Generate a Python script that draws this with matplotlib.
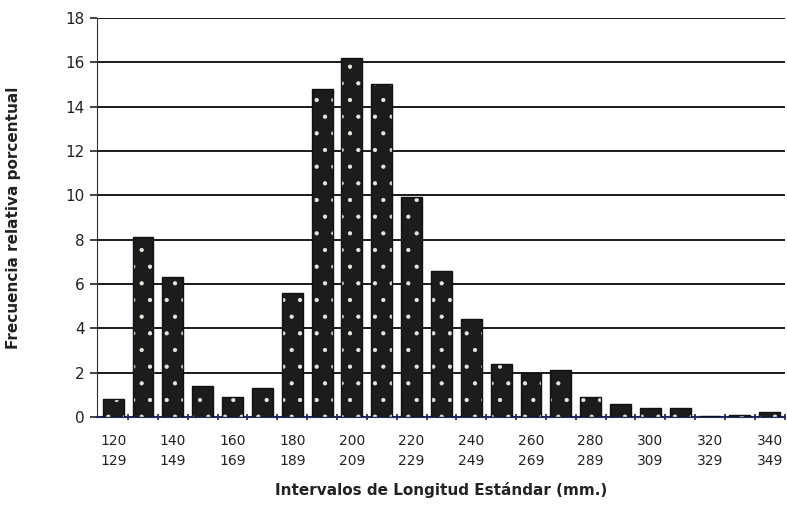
from matplotlib import pyplot as plt
import numpy as np

# interval starts (mm) and relative frequency (%)
starts = [120, 130, 140, 150, 160, 170, 180, 190, 200, 210, 220, 230,
          240, 250, 260, 270, 280, 290, 300, 310, 320, 330, 340]
freq = [0.8, 8.1, 6.3, 1.4, 0.9, 1.3, 5.6, 14.8, 16.2, 15.0, 9.9, 6.6,
        4.4, 2.4, 2.0, 2.1, 0.9, 0.6, 0.4, 0.4, 0.05, 0.1, 0.2]
y_ticks = [0, 2, 4, 6, 8, 10, 12, 14, 16, 18]

# only every other interval gets a label
labels = [f"{s}\n{s + 9}" if i % 2 == 0 else "" for i, s in enumerate(starts)]

plt.rcParams['hatch.linewidth'] = 0.6
fig = plt.figure(figsize=(7.87, 5.25), dpi=100)
ax = fig.add_axes([0.123, 0.206, 0.874, 0.76])

x = np.arange(len(starts))
for yv in y_ticks[1:]:
    ax.axhline(yv, color='#1a1a1a', lw=1.4, zorder=1)

ax.bar(x, freq, width=0.7, color='#1c1c1c', edgecolor='#e8e8d8',
       hatch='.', linewidth=0, zorder=3)
ax.bar(x, freq, width=0.7, color='none', edgecolor='#111111',
       linewidth=1.0, zorder=4)

ax.set_xlim(-0.55, 22.45)
ax.set_ylim(0, 18)
ax.set_yticks(y_ticks)
ax.set_yticklabels([str(v) for v in y_ticks], fontsize=11, color='#222222')
ax.set_xticks(x)
ax.set_xticklabels(labels, fontsize=10, color='#222222', linespacing=1.6)
ax.set_xticks(x + 0.5, minor=True)
ax.tick_params(axis='x', which='major', length=0, pad=12)
ax.tick_params(axis='x', which='minor', length=5, direction='inout',
               width=1.2, color='#222222')
ax.tick_params(axis='y', length=5, width=1.2, direction='out', color='#222222')

for side in ['right', 'top']:
    ax.spines[side].set_visible(False)
ax.spines['left'].set_color('#333333')
ax.spines['bottom'].set_color('#1f2a6b')
ax.spines['bottom'].set_linewidth(1.5)

ax.set_ylabel('Frecuencia relativa porcentual', fontsize=11,
              fontweight='bold', color='#222222', labelpad=32)
ax.set_xlabel('Intervalos de Longitud Estándar (mm.)', fontsize=11,
              fontweight='bold', color='#222222', labelpad=10)

fig.savefig('out.png', dpi=100)
